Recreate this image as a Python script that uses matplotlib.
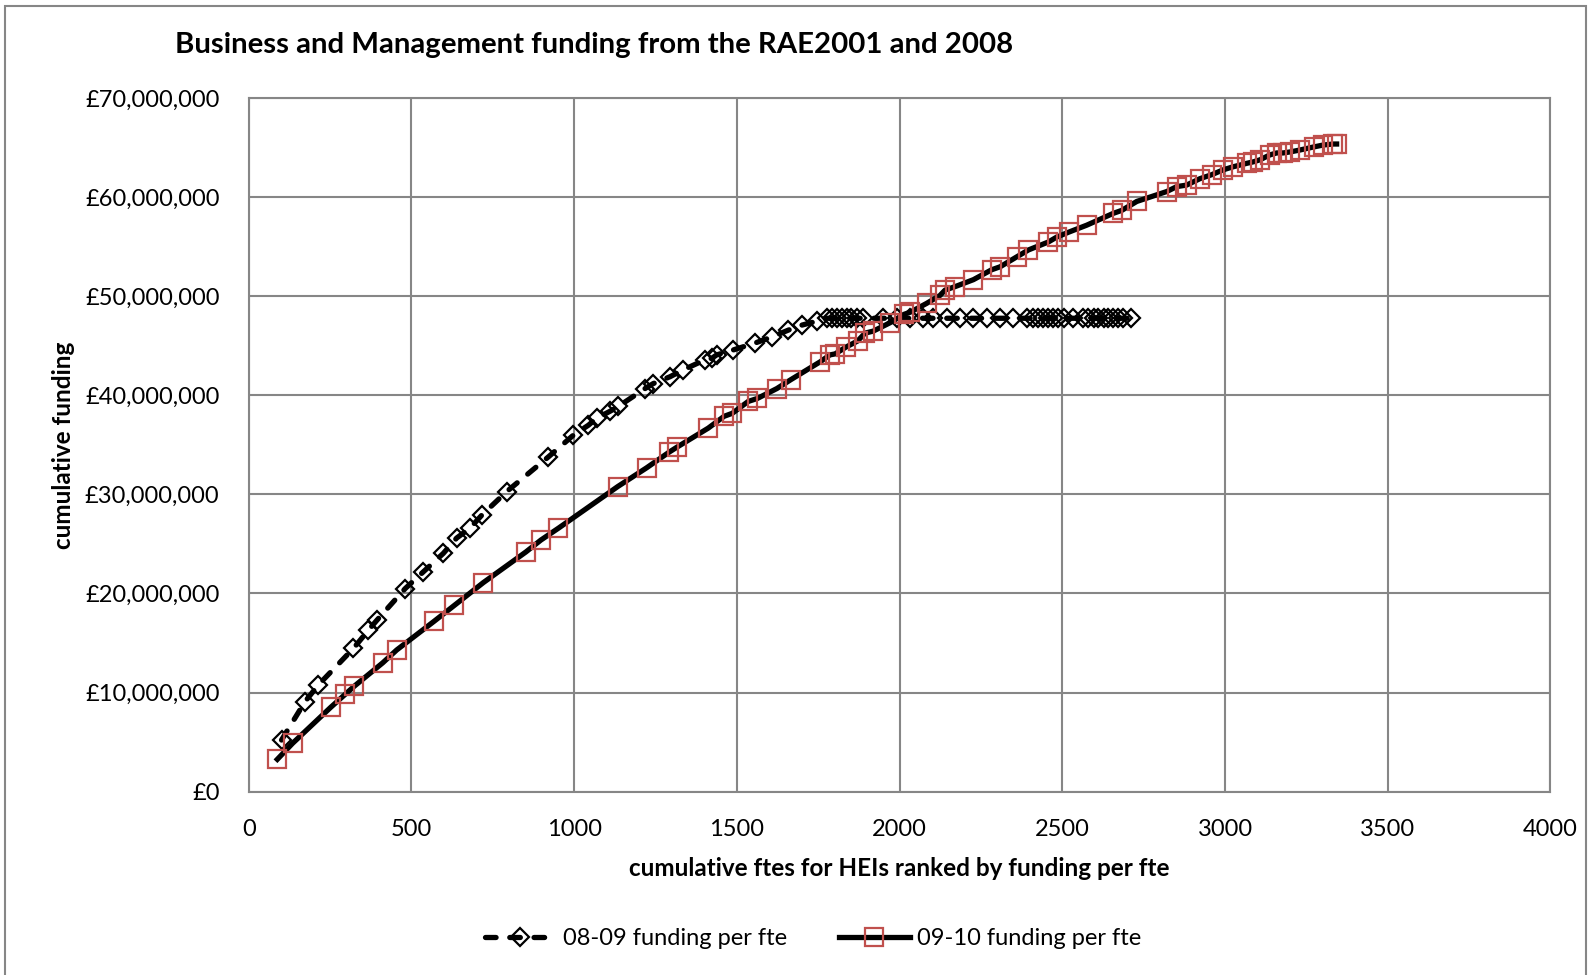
import matplotlib
matplotlib.use("Agg")
import matplotlib.pyplot as plt
from matplotlib.ticker import FuncFormatter
from matplotlib.patches import Rectangle

plt.rcParams['font.family'] = ['Lato', 'DejaVu Sans']

# 08-09 funding per fte: cumulative ftes and cumulative funding (£m)
fte_0809 = [101, 173, 214, 322, 368, 394, 481, 537, 598, 639, 680, 716, 793, 921,
            998, 1044, 1069, 1110, 1136, 1218, 1243, 1295, 1336, 1402, 1423, 1438,
            1489, 1556, 1607, 1658, 1699, 1745, 1776, 1792, 1807, 1822, 1837, 1852,
            1868, 1889, 1950, 1991, 2032, 2073, 2104, 2145, 2186, 2227, 2268, 2309,
            2350, 2391, 2411, 2426, 2442, 2457, 2473, 2488, 2504, 2534, 2565, 2580,
            2596, 2611, 2627, 2642, 2657, 2672, 2688, 2712]
fund_0809 = [5.2, 9.07, 10.76, 14.46, 16.3, 17.3, 20.5, 22.2, 24.05, 25.6, 26.6, 27.9,
             30.3, 33.8, 36.0, 37.0, 37.7, 38.4, 38.9, 40.7, 41.2, 41.9, 42.6, 43.6,
             43.75, 44.1, 44.6, 45.3, 45.9, 46.6, 47.1, 47.5, 47.8, 47.8, 47.8, 47.8,
             47.8, 47.8, 47.8, 47.8, 47.8, 47.8, 47.8, 47.8, 47.8, 47.8, 47.8, 47.8,
             47.8, 47.8, 47.8, 47.8, 47.8, 47.8, 47.8, 47.8, 47.8, 47.8, 47.8, 47.8,
             47.8, 47.8, 47.8, 47.8, 47.8, 47.8, 47.8, 47.8, 47.8, 47.8]

# 09-10 funding per fte
fte_0910 = [88, 135, 252, 296, 325, 412, 455, 570, 632, 721, 852, 898, 952, 1134,
            1223, 1293, 1317, 1412, 1461, 1486, 1535, 1563, 1623, 1666, 1756, 1786,
            1802, 1836, 1871, 1894, 1919, 1971, 2014, 2032, 2083, 2124, 2140, 2171,
            2227, 2283, 2309, 2360, 2396, 2457, 2483, 2520, 2575, 2657, 2683, 2729,
            2821, 2852, 2882, 2923, 2959, 2995, 3025, 3067, 3087, 3107, 3138, 3159,
            3179, 3200, 3231, 3272, 3302, 3333, 3343]
fund_0910 = [3.25, 4.87, 8.5, 9.8, 10.65, 13.0, 14.3, 17.2, 18.8, 21.1, 24.2, 25.4,
             26.6, 30.8, 32.7, 34.3, 34.8, 36.7, 37.9, 38.2, 39.4, 39.7, 40.7, 41.6,
             43.4, 44.1, 44.2, 44.9, 45.5, 46.3, 46.5, 47.35, 48.2, 48.4, 49.3, 50.1,
             50.65, 51.0, 51.7, 52.7, 53.0, 54.0, 54.7, 55.5, 56.0, 56.5, 57.2, 58.4,
             58.7, 59.6, 60.6, 61.1, 61.25, 61.9, 62.3, 62.8, 63.1, 63.45, 63.6, 63.8,
             64.3, 64.5, 64.5, 64.6, 64.8, 65.1, 65.3, 65.4, 65.4]

fig = plt.figure(figsize=(15.91, 9.75), dpi=100)
ax = fig.add_axes([0.1563, 0.1882, 0.8182, 0.7108])

# outer chart border
fig.patches.append(Rectangle((0.003, -0.01), 0.994, 1.004, transform=fig.transFigure,
                             fill=False, edgecolor='#868686', linewidth=1.5))

ax.plot(fte_0809, [v * 1e6 for v in fund_0809], color='black', linewidth=3.8,
        linestyle=(0, (2.0, 2.6)), dash_capstyle='round', marker='D', markersize=9.5,
        markerfacecolor='none', markeredgecolor='black', markeredgewidth=1.6,
        label='08-09 funding per fte')
ax.plot(fte_0910, [v * 1e6 for v in fund_0910], color='black', linewidth=3.8,
        marker='s', markersize=13, markerfacecolor='none', markeredgecolor='#C0504D',
        markeredgewidth=1.6, label='09-10 funding per fte')

ax.set_xlim(0, 4000)
ax.set_ylim(0, 70e6)
ax.set_xticks(range(0, 4001, 500))
ax.set_yticks([i * 10e6 for i in range(8)])
ax.yaxis.set_major_formatter(FuncFormatter(lambda v, p: '£{:,.0f}'.format(v)))
ax.grid(True, color='#868686', linewidth=1.5)
ax.set_axisbelow(True)
for s in ax.spines.values():
    s.set_color('#868686')
    s.set_linewidth(1.5)
ax.tick_params(length=0, labelsize=17)
ax.tick_params(axis='y', pad=21)
ax.tick_params(axis='x', pad=20)

ax.set_xlabel('cumulative ftes for HEIs ranked by funding per fte', fontsize=17.5,
              fontweight='bold', labelpad=12)
ax.set_ylabel('cumulative funding', fontsize=17.5, fontweight='bold', labelpad=7)
fig.text(0.110, 0.954, 'Business and Management funding from the RAE2001 and 2008',
         fontsize=21.2, fontweight='bold', va='center', ha='left')

fig.legend(loc='center', bbox_to_anchor=(0.511, 0.0375), ncol=2, frameon=False,
           fontsize=17, handlelength=3.0, columnspacing=2.2, handletextpad=0.3)

fig.savefig('out.png', dpi=100)
